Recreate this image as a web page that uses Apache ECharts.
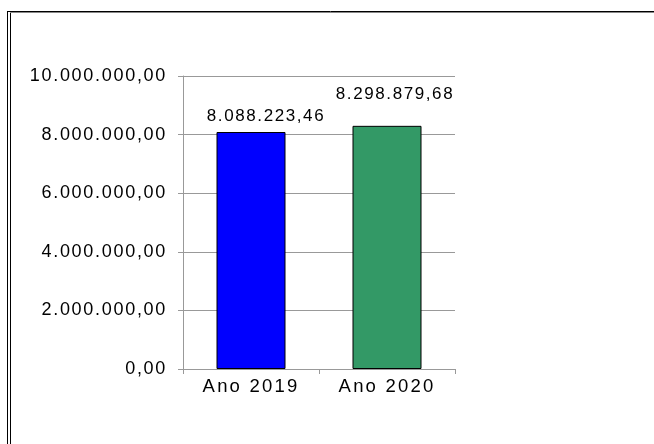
<!DOCTYPE html>
<html><head><meta charset="utf-8">
<script src="https://cdn.jsdelivr.net/npm/echarts@6/dist/echarts.min.js"></script>
<style>html,body{margin:0;padding:0;background:#fff}#c{width:654px;height:444px}</style>
</head><body><div id="c"></div>
<script>
const categories = ['Ano 2019', 'Ano 2020'];
const values = [8088223.46, 8298879.68];
const yMin = 0, yMax = 10000000, yStep = 2000000;

// wide letter spacing like the reference rendering
(function () {
  const P = CanvasRenderingContext2D.prototype;
  const ft = P.fillText, mt = P.measureText;
  function ls(ctx) {
    const m = /(\d+(?:\.\d+)?)px/.exec(ctx.font);
    const s = m ? parseFloat(m[1]) : 12;
    let sp = 1.6;
    if (s >= 18.4) sp = 2.2; else if (s >= 18) sp = 1.7;
    try { ctx.letterSpacing = sp + 'px'; } catch (e) {}
  }
  P.fillText = function () { ls(this); return ft.apply(this, arguments); };
  P.measureText = function () { ls(this); return mt.apply(this, arguments); };
})();

function fmt(v) {
  const parts = Number(v).toFixed(2).split('.');
  return parts[0].replace(/\B(?=(\d{3})+(?!\d))/g, '.') + ',' + parts[1];
}

const barColors = ['#0000FF', '#339966'];
const labelOffsets = [[15, -1], [8, -17]];
const FF = 'Liberation Sans, Arial, sans-serif';

const chart = echarts.init(document.getElementById('c'), null, { renderer: 'canvas' });
chart.setOption({
  animation: false,
  backgroundColor: '#fff',
  textStyle: { fontFamily: FF },
  grid: { left: 183, right: 199, top: 76, bottom: 75, containLabel: false },
  xAxis: {
    type: 'category',
    data: categories,
    axisLine: { lineStyle: { color: '#999', width: 1 } },
    axisTick: { show: true, length: 5, lineStyle: { color: '#999' } },
    axisLabel: { color: '#000', fontSize: 18.5, margin: 7, fontFamily: FF },
    splitLine: { show: false }
  },
  yAxis: {
    type: 'value',
    min: yMin, max: yMax, interval: yStep,
    axisLine: { show: true, lineStyle: { color: '#999', width: 1 } },
    axisTick: { show: true, length: 5, lineStyle: { color: '#999' } },
    axisLabel: { color: '#000', fontSize: 18, margin: 16, formatter: fmt, fontFamily: FF },
    splitLine: { show: true, lineStyle: { color: '#999', width: 1 } }
  },
  series: [{
    type: 'bar',
    barWidth: 69,
    data: values.map((v, i) => ({
      value: v,
      itemStyle: { color: barColors[i], borderColor: '#000', borderWidth: 1 },
      label: {
        show: true, position: 'top', distance: 5,
        offset: labelOffsets[i],
        formatter: p => fmt(p.value),
        color: '#000', fontSize: 17,
        fontFamily: FF
      }
    }))
  }],
  graphic: [
    { type: 'line', silent: true, shape: { x1: 7.5, y1: 11, x2: 7.5, y2: 444 }, style: { stroke: '#000', lineWidth: 1 } },
    { type: 'line', silent: true, shape: { x1: 10.5, y1: 12, x2: 10.5, y2: 444 }, style: { stroke: '#000', lineWidth: 1 } },
    { type: 'line', silent: true, shape: { x1: 7, y1: 11.5, x2: 654, y2: 11.5 }, style: { stroke: '#000', lineWidth: 1 } },
    { type: 'line', silent: true, shape: { x1: 10, y1: 12.5, x2: 654, y2: 12.5 }, style: { stroke: '#888', lineWidth: 1 } }
  ]
});
</script>
</body></html>
